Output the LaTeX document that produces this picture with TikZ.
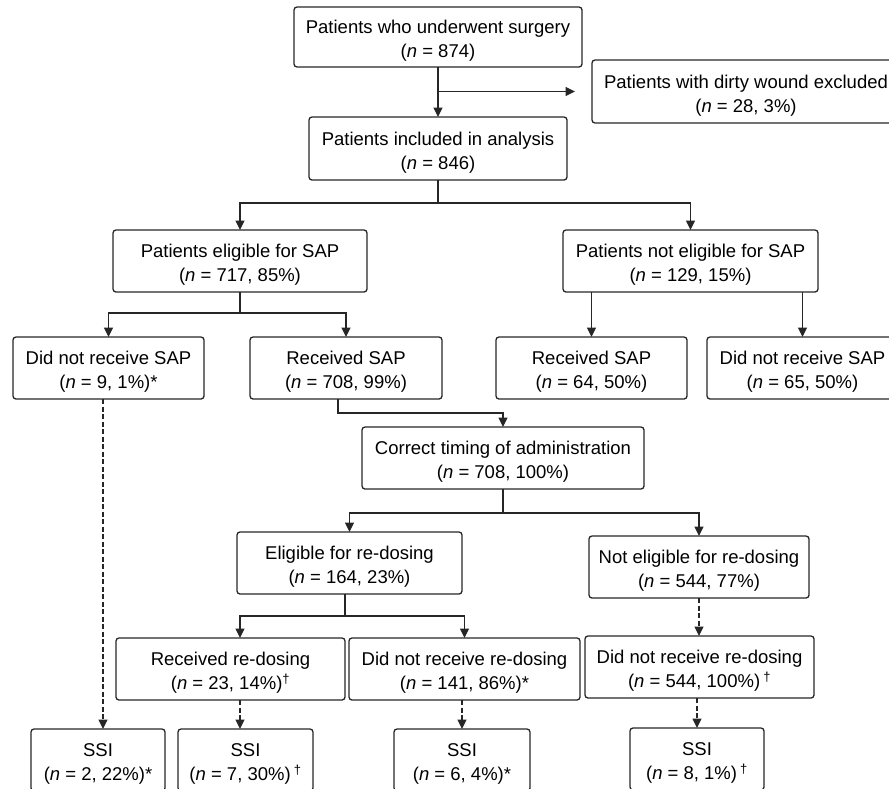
\documentclass[tikz,border=0pt]{standalone}
\usepackage{fontspec}
\setmainfont{Liberation Sans}
\usetikzlibrary{arrows.meta,positioning,calc}
\newcommand{\boxtop}{\rule{0pt}{21pt}}

\begin{document}
\begin{tikzpicture}[x=1pt, y=1pt, >={Triangle[length=9.5pt,width=9pt]}, line width=1.4pt,
    box/.style={draw=black!85, line width=1.3pt, rounded corners=3pt, align=center,
      minimum height=62pt, inner xsep=6pt, outer sep=0pt, font=\fontsize{18.5}{24}\selectfont},
    flow/.style={->, draw=black!85},
    maybe/.style={->, draw=black!85, dash pattern=on 5pt off 2.5pt}]
    \useasboundingbox (0,0) rectangle (889,-788);

    \node[box, minimum width=288pt, minimum height=60pt] (surgery) at (438,-37)
        {\boxtop Patients who underwent surgery\\(\textit{n} = 874)};   % all patients
    \node[box, minimum width=308pt, minimum height=63pt] (excl) at (746,-91.5)
        {\boxtop Patients with dirty wound excluded\\(\textit{n} = 28, 3\%)};
    \node[box, minimum width=258pt, minimum height=63pt] (incl) [below=50pt of surgery]
        {\boxtop Patients included in analysis\\(\textit{n} = 846)};

    % SAP eligibility
    \node[box, minimum width=254pt] (elig) [below=50pt of incl, xshift=-198pt]
        {\boxtop Patients eligible for SAP\\(\textit{n} = 717, 85\%)};
    \node[box, minimum width=255pt] (noelig) [below=50pt of incl, xshift=252.5pt]
        {\boxtop Patients not eligible for SAP\\(\textit{n} = 129, 15\%)};

    \node[box, minimum width=191pt] (dnr1) [below=45pt of elig, xshift=-131.5pt]
        {\boxtop Did not receive SAP\\(\textit{n} = 9, 1\%)*};
    \node[box, minimum width=192pt] (rec1) [below=45pt of elig, xshift=106pt]
        {\boxtop Received SAP\\(\textit{n} = 708, 99\%)};
    \node[box, minimum width=191pt] (rec2) [below=45pt of noelig, xshift=-99pt]
        {\boxtop Received SAP\\(\textit{n} = 64, 50\%)};
    \node[box, minimum width=191pt] (dnr2) [below=45pt of noelig, xshift=112pt]
        {\boxtop Did not receive SAP\\(\textit{n} = 65, 50\%)};

    % timing and re-dosing
    \node[box, minimum width=282pt] (timing) [below=28pt of rec1, xshift=157pt]
        {\boxtop Correct timing of administration\\(\textit{n} = 708, 100\%)};
    \node[box, minimum width=225pt] (eligre) [below=43pt of timing, xshift=-153.5pt]
        {\boxtop Eligible for re-dosing\\(\textit{n} = 164, 23\%)};
    \node[box, minimum width=220pt] (noeligre) [below=47pt of timing, xshift=196pt]
        {\boxtop Not eligible for re-dosing\\(\textit{n} = 544, 77\%)};

    \node[box, minimum width=229pt] (recre) [below=44pt of eligre, xshift=-119pt]
        {\boxtop Received re-dosing\\(\textit{n} = 23, 14\%)\textsuperscript{†}};
    \node[box, minimum width=231pt] (dnrre1) [below=44pt of eligre, xshift=115pt]
        {\boxtop Did not receive re-dosing\\(\textit{n} = 141, 86\%)*};
    \node[box, minimum width=229pt] (dnrre2) [below=38pt of noeligre, xshift=0.5pt]
        {\boxtop Did not receive re-dosing\\(\textit{n} = 544, 100\%)\,\textsuperscript{†}};

    % surgical site infections
    \node[box, minimum width=134pt] (ssi1) [below=29pt of recre, xshift=-132.5pt]
        {\boxtop SSI\\(\textit{n} = 2, 22\%)*};
    \node[box, minimum width=135pt] (ssi2) [below=29pt of recre, xshift=15pt]
        {\boxtop SSI\\(\textit{n} = 7, 30\%)\,\textsuperscript{†}};
    \node[box, minimum width=136pt] (ssi3) [below=29pt of dnrre1, xshift=-2.5pt]
        {\boxtop SSI\\(\textit{n} = 6, 4\%)*};
    \node[box, minimum width=134pt] (ssi4) [below=30pt of dnrre2, xshift=-2.5pt]
        {\boxtop SSI\\(\textit{n} = 8, 1\%)\,\textsuperscript{†}};

    % free ends and offset anchors
    \coordinate (exclend) at ([xshift=-17pt]excl.west);
    \coordinate (rec1out) at ([xshift=-8pt]rec1.south);
    \coordinate (eligreout) at ([xshift=-4.5pt]eligre.south);
    \coordinate (recrein) at ([xshift=9.5pt]recre.north);
    \coordinate (recreout) at ([xshift=9.5pt]recre.south);
    \coordinate (dnr1out) at ([xshift=-5.5pt]dnr1.south);

    % solid edges
    \draw[flow] (surgery.south) -- (incl.north);
    \draw[flow] (surgery.south |- excl.west) -- (exclend);
    \draw[flow] (incl.south) -- ++(0,-23) -| (elig.north);
    \draw[flow] (incl.south) -- ++(0,-23) -| (noelig.north);
    \draw[flow] (elig.south) -- ++(0,-21) -| (dnr1.north);
    \draw[flow] (elig.south) -- ++(0,-21) -| (rec1.north);
    \draw[flow] (rec2.north |- noelig.south) -- (rec2.north);
    \draw[flow] (dnr2.north |- noelig.south) -- (dnr2.north);
    \draw[flow] (rec1out) -- ++(0,-14) -| (timing.north);
    \draw[flow] (timing.south) -- ++(0,-24) -| (eligre.north);
    \draw[flow] (timing.south) -- ++(0,-24) -| (noeligre.north);
    \draw[flow] (eligreout) -- ++(0,-22) -| (recrein);
    \draw[flow] (eligreout) -- ++(0,-22) -| (dnrre1.north);

    % dashed edges
    \draw[maybe] (dnr1out) -- (dnr1out |- ssi1.north);
    \draw[maybe] (recreout) -- (recreout |- ssi2.north);
    \draw[maybe] (ssi3.north |- dnrre1.south) -- (ssi3.north);
    \draw[maybe] (noeligre.south) -- (noeligre.south |- dnrre2.north);
    \draw[maybe] (ssi4.north |- dnrre2.south) -- (ssi4.north);
\end{tikzpicture}
\end{document}
